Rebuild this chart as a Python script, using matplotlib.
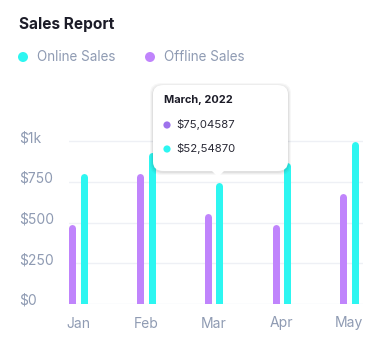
import matplotlib.pyplot as plt
from matplotlib.patches import FancyBboxPatch, Polygon, Ellipse
from matplotlib.transforms import ScaledTranslation

plt.rcParams['font.family'] = ['Inter', 'DejaVu Sans']

# ---- data ----
months = ['Jan', 'Feb', 'Mar', 'Apr', 'May']
offline_sales = [490, 800, 555, 490, 680]
online_sales = [805, 930, 745, 870, 1000]
y_ticks = [0, 250, 500, 750, 1000]
y_tick_labels = ['$0', '$250', '$500', '$750', '$1k']
tip_title = 'March, 2022'
tip_values = ['$75,04587', '$52,54870']

CYAN = '#2DF6F1'
PURPLE = '#C084FC'
PURPLE_DARK = '#9E72EC'
GRAY = '#8F9BB3'
DARK = '#1C1C28'

W, H = 383, 342
fig = plt.figure(figsize=(W / 100, H / 100), dpi=100)
fig.patch.set_facecolor('white')


def fx(x):
    return x / W


def fy(y):
    return 1 - y / H


def dot(cx, cy, d, col, z=7):
    fig.patches.append(Ellipse((fx(cx), fy(cy)), d / W, d / H, transform=fig.transFigure,
                               facecolor=col, edgecolor='none', zorder=z))


# axes: x 69..363 px, y 304 (value 0) .. 120 px
ax_top = 120
ax = fig.add_axes([fx(69), fy(304), (363 - 69) / W, (304 - ax_top) / H])
px_per_unit = 162.7 / 1000
ax.set_ylim(0, (304 - ax_top) / px_per_unit)
ax.set_xlim(-0.137, 4.206)

for s in ax.spines.values():
    s.set_visible(False)
ax.set_yticks(y_ticks)
ax.set_yticklabels(y_tick_labels)
ax.yaxis.grid(True, color='#EEF0F5', linewidth=1)
ax.set_axisbelow(True)
ax.tick_params(axis='y', length=0, pad=36, labelsize=10, labelcolor=GRAY)
for lab in ax.get_yticklabels():
    lab.set_horizontalalignment('left')
    lab.set_transform(lab.get_transform() + ScaledTranslation(0, 0.045, fig.dpi_scale_trans))

ax.set_xticks(range(len(months)))
ax.set_xticklabels(months)
ax.tick_params(axis='x', length=0, pad=9, labelsize=10, labelcolor=GRAY)

# bars as round-capped lines (cap radius subtracted so the top matches the value)
bar_px = 7
r = (bar_px / 2) / px_per_unit
lw = bar_px * 0.72
off = 0.086
for i in range(len(months)):
    ax.plot([i - off, i - off], [-50, offline_sales[i] - r], color=PURPLE,
            linewidth=lw, solid_capstyle='round')
    ax.plot([i + off, i + off], [-50, online_sales[i] - r], color=CYAN,
            linewidth=lw, solid_capstyle='round')

# title
fig.text(fx(19), fy(24), 'Sales Report', fontsize=11.1, fontweight='bold',
         color=DARK, ha='left', va='center')

# legend
for cx, tx, col, name in [(23, 37, CYAN, 'Online Sales'), (150, 164, PURPLE, 'Offline Sales')]:
    dot(cx, 57, 10, col, z=2)
    fig.text(fx(tx), fy(57), name, fontsize=9.7, color=GRAY, ha='left', va='center')

# tooltip
bx0, by0, bx1, by1 = 153, 85, 288, 171
for k, a in [(3, 0.03), (2, 0.04), (1, 0.05)]:
    fig.patches.append(FancyBboxPatch((fx(bx0 - k), fy(by1 + k + 1)),
                                      (bx1 - bx0 + 2 * k) / W, (by1 - by0 + 2 * k) / H,
                                      boxstyle='round,pad=0,rounding_size=0.03',
                                      transform=fig.transFigure, facecolor='black',
                                      edgecolor='none', alpha=a, zorder=5))
fig.patches.append(FancyBboxPatch((fx(bx0), fy(by1)), (bx1 - bx0) / W, (by1 - by0) / H,
                                  boxstyle='round,pad=0,rounding_size=0.027',
                                  transform=fig.transFigure, facecolor='white',
                                  edgecolor='none', zorder=6))
fig.patches.append(Polygon([(fx(211), fy(170)), (fx(225), fy(170)), (fx(218), fy(177))],
                           closed=True, transform=fig.transFigure, facecolor='white',
                           edgecolor='none', zorder=6))
fig.text(fx(164), fy(100), tip_title, fontsize=7.9, fontweight='bold', color=DARK,
         ha='left', va='center', zorder=7)
for yy, col, val in [(125, PURPLE_DARK, tip_values[0]), (149, CYAN, tip_values[1])]:
    dot(167, yy, 7.2, col)
    fig.text(fx(176), fy(yy), val, fontsize=8.2, color='#2A2A36', ha='left',
             va='center', zorder=7)

fig.savefig('out.png', dpi=100)
